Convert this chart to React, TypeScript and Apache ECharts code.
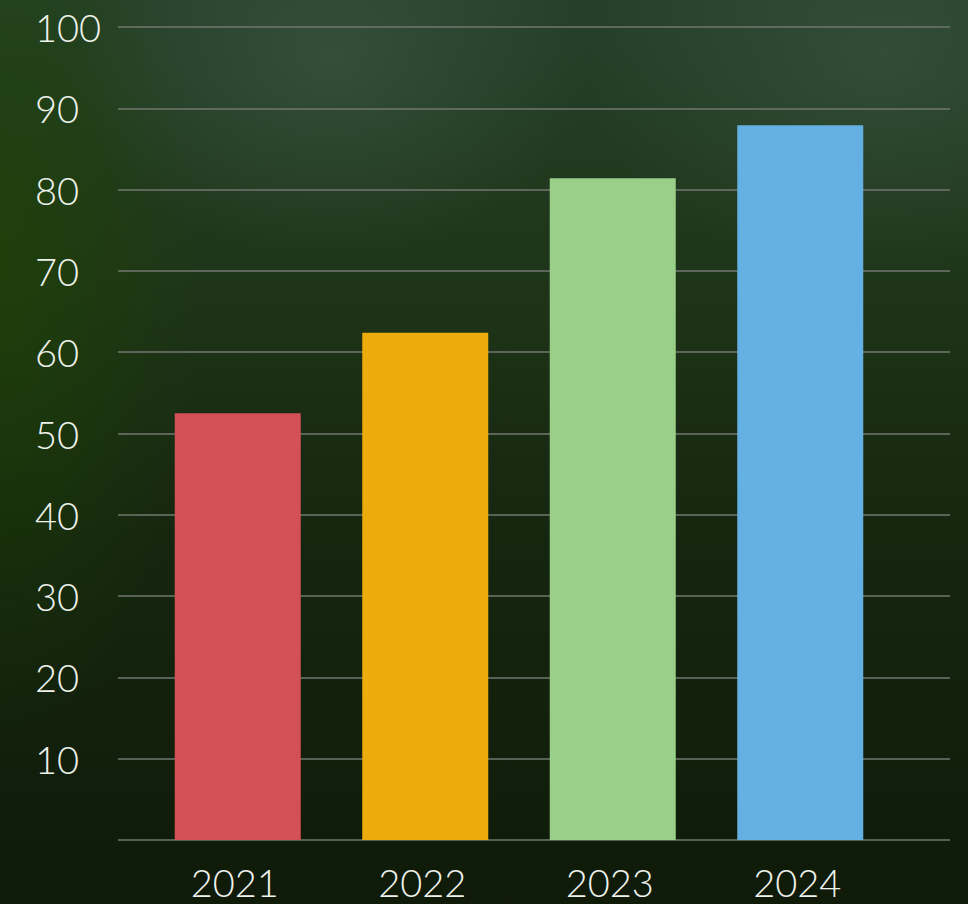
import React, { useEffect, useRef } from "react";
import * as echarts from "echarts";

const categories = ["2021", "2022", "2023", "2024"];
const values = [52.5, 62.4, 81.4, 87.9];
const barColors = ["#d35156", "#ecac0b", "#9acf8a", "#64b0e2"];
const yTicks = [0, 10, 20, 30, 40, 50, 60, 70, 80, 90, 100];

export default function App() {
  const ref = useRef<HTMLDivElement>(null);
  useEffect(() => {
    document.body.style.margin = "0";
    const chart = echarts.init(ref.current!, null, { renderer: "svg" });
    const font = { fontFamily: "Lato", fontWeight: 300 as any, fontSize: 38, color: "#eef2ec" };
    chart.setOption({
      animation: false,
      backgroundColor: "transparent",
      grid: [
        { left: 118, right: 18, top: 27, bottom: 64 },
        { left: 144, right: 74, top: 27, bottom: 64 },
      ],
      xAxis: [
        {
          gridIndex: 0,
          type: "category",
          data: categories,
          axisLine: { show: false },
          axisTick: { show: false },
          axisLabel: { show: false },
        },
        {
          gridIndex: 1,
          type: "category",
          data: categories,
          axisLine: { show: false },
          axisTick: { show: false },
          axisLabel: { ...font, margin: 23, padding: [0, 6, 0, 0] },
        },
      ],
      yAxis: [
        {
          gridIndex: 0,
          type: "value",
          min: yTicks[0],
          max: yTicks[yTicks.length - 1],
          interval: 10,
          axisLine: { show: false },
          axisTick: { show: false },
          splitLine: { show: true, lineStyle: { color: "#72776f", width: 1.5 } },
          axisLabel: {
            ...font,
            align: "left",
            margin: 83,
            formatter: (v: number) => (v === 0 ? "" : String(v)),
          },
        },
        {
          gridIndex: 1,
          type: "value",
          min: 0,
          max: 100,
          interval: 10,
          show: false,
          splitLine: { show: false },
        },
      ],
      series: [
        {
          type: "bar",
          xAxisIndex: 1,
          yAxisIndex: 1,
          barWidth: 126,
          data: values.map((v, i) => ({ value: v, itemStyle: { color: barColors[i] } })),
        },
      ],
    });
    return () => chart.dispose();
  }, []);
  return (
    <div
      style={{
        width: 968,
        height: 904,
        position: "relative",
        background:
          "radial-gradient(ellipse 260px 200px at 330px 60px, rgba(70,100,80,0.45), transparent)," +
          "radial-gradient(ellipse 300px 220px at 880px 60px, rgba(70,100,80,0.4), transparent)," +
          "radial-gradient(ellipse 200px 500px at 0px 250px, rgba(30,70,0,0.6), transparent)," +
          "linear-gradient(180deg, #25402a 0%, #1f3519 30%, #15260f 60%, #0f1a09 100%)",
      }}
    >
      <div ref={ref} style={{ width: 968, height: 904 }} />
    </div>
  );
}
